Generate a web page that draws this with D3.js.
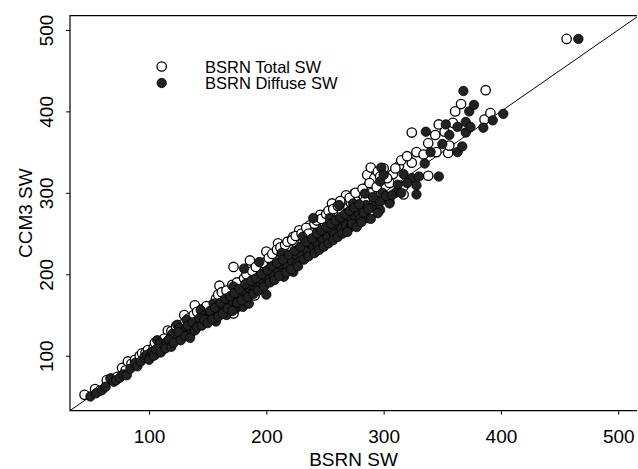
<!DOCTYPE html>
<html><head><meta charset="utf-8">
<script src="https://cdn.jsdelivr.net/npm/d3@7"></script>
<style>body{margin:0;background:#fff}svg{display:block}text{font-family:"Liberation Sans",Arial,sans-serif;fill:#000}</style>
</head><body><svg id="c" width="638" height="469"></svg>
<script>
const xTicks = [100, 200, 300, 400, 500];
const yTicks = [100, 200, 300, 400, 500];
const xLabel = "BSRN SW";
const yLabel = "CCM3 SW";
const seriesNames = ["BSRN Total SW", "BSRN Diffuse SW"];
// BSRN Total SW: [BSRN, CCM3]
const totalSW = [[45,52],[54,59],[58,57],[64,70],[68,72],[73,74],[77,85],[80,82],[82,93],[85,90],[88,95],[92,100],[94,103],[97,104],[99,107],[102,104],[104,110],[107,106],[110,114],[112,118],[115,113],[116,131],[118,122],[120,125],[122,128],[125,121],[127,133],[130,150],[131,136],[133,129],[135,140],[137,145],[139,162],[140,138],[142,147],[144,143],[146,150],[148,154],[150,148],[152,158],[154,162],[156,157],[158,166],[160,186],[161,163],[163,170],[165,168],[167,175],[169,156],[170,178],[172,209],[172,152],[174,182],[176,180],[178,187],[180,190],[182,186],[184,194],[186,217],[187,190],[189,198],[190,174],[192,200],[194,196],[196,205],[198,210],[200,228],[201,204],[203,212],[204,197],[206,216],[208,220],[210,238],[211,214],[213,222],[215,226],[217,219],[219,230],[221,233],[223,246],[224,227],[226,236],[228,254],[229,231],[231,240],[233,244],[235,238],[237,260],[238,248],[240,252],[242,246],[244,256],[246,273],[248,258],[250,262],[252,255],[254,266],[256,287],[258,270],[260,264],[262,274],[264,278],[266,258],[268,297],[270,282],[272,288],[275,299],[278,292],[280,300],[283,296],[286,322],[287,309],[289,331],[292,318],[295,326],[300,330],[305,312],[308,323],[313,333],[317,308],[317,298],[324,337],[324,374],[328,350],[334,347],[338,321],[338,361],[344,371],[345,350],[347,384],[352,375],[355,349],[356,358],[359,386],[361,400],[366,409],[387,426],[386,390],[391,398],[456,489],
  [105,116],[108,118],[113,121],[119,130],[123,136],[126,127],[129,139],[134,146],[138,150],[141,154],[145,157],[149,161],[153,150],[157,170],[159,175],[162,178],[166,180],[168,171],[171,187],[175,190],[177,173],[181,195],[183,200],[185,185],[188,204],[191,209],[193,190],[197,214],[199,202],[202,220],[205,225],[207,208],[209,230],[212,233],[214,216],[216,236],[218,240],[220,222],[222,242],[225,247],[227,230],[230,250],[232,235],[234,257],[236,250],[239,242],[241,262],[243,266],[245,249],[247,268],[249,253],[251,274],[253,278],[255,260],[257,280],[259,266],[261,284],[263,290],[265,270],[269,275],[271,294],[273,278],[276,300],[279,285],[282,305],[284,290],[288,312],[290,300],[294,307],[297,320],[303,318],[310,330],[315,340],[320,345]];
// BSRN Diffuse SW: [BSRN, CCM3]
const diffuseSW = [[50,50],[55,54],[60,58],[63,62],[67,72],[70,68],[72,70],[75,73],[78,77],[81,76],[84,84],[88,91],[90,87],[93,93],[96,98],[98,101],[101,99],[103,105],[105,101],[107,119],[109,115],[111,108],[113,112],[115,117],[118,114],[120,127],[122,121],[124,138],[126,134],[128,125],[130,131],[132,144],[134,128],[136,129],[138,136],[140,142],[142,138],[144,156],[146,141],[148,150],[149,146],[151,147],[153,152],[155,164],[157,142],[158,160],[160,154],[162,158],[164,167],[166,150],[168,165],[170,162],[172,185],[174,158],[176,170],[178,175],[180,160],[181,207],[183,178],[185,164],[186,182],[188,185],[190,180],[192,190],[194,215],[195,188],[197,193],[199,198],[200,175],[202,197],[204,204],[206,200],[208,209],[210,205],[212,212],[213,226],[215,197],[216,214],[218,210],[220,220],[222,216],[223,203],[225,224],[226,213],[228,230],[230,225],[231,246],[233,232],[235,229],[237,238],[240,234],[240,269],[242,240],[244,236],[246,248],[248,242],[250,252],[252,246],[254,269],[256,254],[258,249],[260,262],[262,285],[264,256],[266,266],[268,260],[270,272],[272,258],[274,287],[276,270],[278,276],[280,268],[284,299],[285,285],[286,269],[290,282],[293,290],[297,289],[297,279],[297,314],[298,331],[300,322],[305,289],[305,287],[310,300],[317,323],[324,318],[328,309],[328,298],[335,336],[336,375],[340,350],[347,320],[350,360],[353,384],[356,371],[363,381],[363,350],[367,357],[368,425],[370,387],[370,374],[373,400],[374,381],[377,408],[385,380],[393,389],[402,397],[466,489],
  [100,95],[104,100],[106,108],[110,104],[114,109],[117,120],[119,111],[121,116],[125,129],[127,119],[131,124],[133,137],[135,122],[137,141],[139,131],[141,135],[143,146],[145,137],[147,144],[150,140],[152,155],[154,145],[156,159],[159,148],[161,165],[163,152],[165,170],[167,158],[169,173],[171,155],[173,177],[175,165],[177,182],[179,168],[182,188],[184,172],[187,192],[189,176],[191,195],[193,180],[196,200],[198,185],[201,205],[203,190],[205,210],[207,193],[209,214],[211,198],[214,218],[217,202],[219,224],[221,206],[224,229],[227,210],[229,234],[232,218],[234,240],[236,222],[239,244],[241,226],[243,250],[245,230],[247,254],[249,234],[251,258],[253,238],[255,262],[257,242],[259,266],[261,246],[263,270],[265,250],[267,274],[269,252],[271,278],[273,262],[275,282],[277,258],[279,286],[281,264],[283,276],[287,280],[289,268],[291,295],[295,275],[299,300],[302,296],[307,297],[312,310],[315,300],[320,312],[330,320]];
const xDomain = [32.6, 516];
const yDomain = [32.5, 517.5];

const svg = d3.select("#c");
const L = 70, R = 637, T = 15.7, B = 410.7;
const x = d3.scaleLinear().domain(xDomain).range([L, R]);
const y = d3.scaleLinear().domain(yDomain).range([B, T]);
const FS = 19;

svg.append("defs").append("clipPath").attr("id","clip")
  .append("rect").attr("x",L).attr("y",T).attr("width",R-L).attr("height",B-T);

// 1:1 line
svg.append("line").attr("clip-path","url(#clip)")
  .attr("x1", x(xDomain[0])).attr("y1", y(xDomain[0]))
  .attr("x2", x(600)).attr("y2", y(600))
  .attr("stroke","#000").attr("stroke-width",1);

// points
const r = 4.7;
svg.append("g").selectAll("circle").data(totalSW).join("circle")
  .attr("cx", d => x(d[0])).attr("cy", d => y(d[1])).attr("r", r)
  .attr("fill","#fff").attr("stroke","#000").attr("stroke-width",1.3);
svg.append("g").selectAll("circle").data(diffuseSW).join("circle")
  .attr("cx", d => x(d[0])).attr("cy", d => y(d[1])).attr("r", r)
  .attr("fill","#222").attr("stroke","#000").attr("stroke-width",0.8);

// frame: left, bottom, top
svg.append("path").attr("d", `M${R},${T}H${L}V${B}H${R}`)
  .attr("fill","none").attr("stroke","#000").attr("stroke-width",1.2);

// axes
const gx = svg.append("g").attr("transform", `translate(0,${B})`)
  .call(d3.axisBottom(x).tickValues(xTicks).tickSize(4).tickFormat(d3.format("d")));
gx.select(".domain").remove();
gx.selectAll("text").attr("y", 32.5).attr("dy", 0).style("font-size", FS+"px").style("font-family","Liberation Sans, Arial, sans-serif");

const gy = svg.append("g").attr("transform", `translate(${L},0)`)
  .call(d3.axisLeft(y).tickValues(yTicks).tickSize(4).tickFormat(d3.format("d")));
gy.select(".domain").remove();
gy.selectAll("text").attr("x", 0).attr("dy", 0).attr("text-anchor","middle")
  .attr("transform","translate(-17,0) rotate(-90)")
  .style("font-size", FS+"px").style("font-family","Liberation Sans, Arial, sans-serif");

// titles
svg.append("text").attr("x", (L+R)/2).attr("y", 466).attr("text-anchor","middle")
  .style("font-size", FS+"px").text(xLabel);
svg.append("text").attr("transform", `translate(32,${(T+B)/2}) rotate(-90)`).attr("text-anchor","middle")
  .style("font-size", FS+"px").text(yLabel);

// legend
const lg = svg.append("g");
const ly = [66.5, 83];
lg.append("circle").attr("cx",161.7).attr("cy",ly[0]).attr("r",r).attr("fill","#fff").attr("stroke","#000").attr("stroke-width",1.3);
lg.append("circle").attr("cx",161.7).attr("cy",ly[1]).attr("r",r).attr("fill","#222").attr("stroke","#000").attr("stroke-width",0.8);
seriesNames.forEach((s,i) => lg.append("text").attr("x",205).attr("y",ly[i]+6).style("font-size","16.5px").text(s));
</script></body></html>
